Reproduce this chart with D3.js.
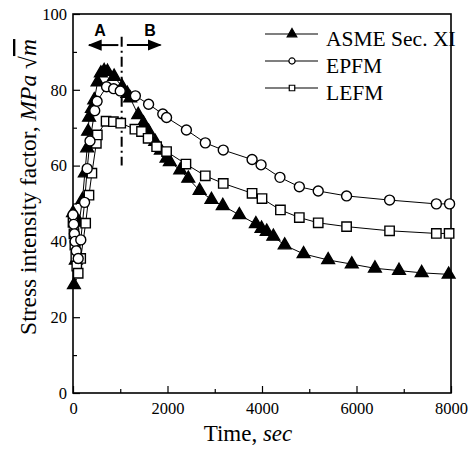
<!DOCTYPE html>
<html><head><meta charset="utf-8">
<script src="https://cdn.jsdelivr.net/npm/d3@7"></script>
<style>body{margin:0;background:#fff}svg{display:block}</style>
</head><body>
<svg id="c" width="474" height="450"></svg>
<script>
const asmeT = [0,20,60,130,200,250,300,320,340,400,450,520,590,660,730,870,1040,1150,1210,1380,1490,1600,1740,1860,1980,2050,2270,2440,2680,2930,3170,3520,3870,3990,4100,4240,4480,4880,5400,5900,6390,6900,7380,7950];
const asmeK = [47.5,28.5,35,45,51,58,64.6,69,72.7,75,77.3,82,84.4,85,84.8,83.5,80.8,79,77.8,73.4,71.2,69,66.3,64,61.9,61,58.8,56.6,53.4,51,49.4,47,44.6,43.4,42.6,41.3,39,36.7,35.1,34,32.9,32.3,31.7,31.3];
const epfmT = [0,15,30,45,70,110,165,245,300,360,460,510,710,860,1000,1320,1600,1900,1980,2400,2800,3180,3790,3980,4380,4790,5190,5790,6700,7690,7970];
const epfmK = [47,44.5,42,40,37.5,35.5,40.4,50.3,59.2,66.5,74.5,77,80.8,80.3,79.7,78.4,76.2,73.6,72.7,69.4,66,64.1,61.6,60.2,56.9,54.4,53.3,52,50.9,49.9,49.9];
const lefmT = [0,20,40,60,80,110,163,268,338,400,494,515,700,855,1010,1310,1450,1590,1770,1980,2390,2800,3180,3790,4000,4390,4790,5190,5790,6700,7690,7960];
const lefmK = [45,42,39,36,33.5,31.6,35.5,44.8,52.2,58,65.9,68.1,71.7,71.6,71.2,69.6,69,67.2,65,63.7,60.4,57.3,55.3,52.7,51.3,48.3,46.3,44.9,43.9,42.8,42.1,42.1];
const xTicks = [0,2000,4000,6000,8000];
const xMinor = [1000,3000,5000,7000];
const yTicks = [0,20,40,60,80,100];
const yMinor = [10,30,50,70,90];
const seriesNames = ["ASME Sec. XI","EPFM","LEFM"];
const phaseLabels = ["A","B"];
const phaseBoundary = 1030;

const W=474,H=450, m={l:73,r:23,t:14,b:57};
const svg=d3.select("#c");
const x=d3.scaleLinear().domain([0,8000]).range([m.l,W-m.r]);
const y=d3.scaleLinear().domain([0,100]).range([H-m.b,m.t]);
const serif="'Liberation Serif','Times New Roman',serif";

// axes
const gx=svg.append("g").attr("transform",`translate(0,${H-m.b})`)
 .call(d3.axisBottom(x).tickValues(xTicks).tickSize(-7).tickPadding(9).tickFormat(d3.format("d")));
const gxm=svg.append("g").attr("transform",`translate(0,${H-m.b})`)
 .call(d3.axisBottom(x).tickValues(xMinor).tickSize(-4).tickFormat(""));
const gy=svg.append("g").attr("transform",`translate(${m.l},0)`)
 .call(d3.axisLeft(y).tickValues(yTicks).tickSize(-7).tickPadding(6).tickFormat(d3.format("d")));
const gym=svg.append("g").attr("transform",`translate(${m.l},0)`)
 .call(d3.axisLeft(y).tickValues(yMinor).tickSize(-4).tickFormat(""));
[gx,gxm,gy,gym].forEach(g=>{g.select(".domain").remove();
 g.selectAll("line").attr("stroke","#000").attr("stroke-width",1.2);
 g.selectAll("text").attr("font-family",serif).attr("font-size",16.5).attr("fill","#000");});
svg.append("rect").attr("x",m.l).attr("y",m.t).attr("width",W-m.l-m.r).attr("height",H-m.t-m.b)
 .attr("fill","none").attr("stroke","#000").attr("stroke-width",1.6);

// axis titles
const xt=svg.append("text").attr("x",248).attr("y",441).attr("text-anchor","middle")
 .attr("font-family",serif).attr("font-size",23);
xt.append("tspan").text("Time, ");
xt.append("tspan").attr("font-style","italic").text("sec");
const yt=svg.append("text").attr("transform",`translate(36,187) rotate(-90)`)
 .attr("text-anchor","middle").attr("font-family",serif).attr("font-size",23.5);
yt.append("tspan").text("Stress intensity factor, ");
yt.append("tspan").attr("font-style","italic").text("MPa");
yt.append("tspan").text(" \u221A");
yt.append("tspan").attr("font-style","italic").attr("text-decoration","overline").text("m");

// phase markers
svg.append("line").attr("x1",x(phaseBoundary)).attr("x2",x(phaseBoundary))
 .attr("y1",y(94)).attr("y2",y(60)).attr("stroke","#000").attr("stroke-width",2)
 .attr("stroke-dasharray","10,4,2,4");
svg.append("defs").append("marker").attr("id","ah").attr("viewBox","0 0 10 10").attr("refX",9).attr("refY",5)
 .attr("markerWidth",7).attr("markerHeight",7).attr("orient","auto-start-reverse")
 .append("path").attr("d","M0,1L10,5L0,9Z").attr("fill","#000");
const ay=y(91.8);
svg.append("line").attr("x1",x(960)).attr("x2",x(340)).attr("y1",ay).attr("y2",ay)
 .attr("stroke","#000").attr("stroke-width",2).attr("marker-end","url(#ah)");
svg.append("line").attr("x1",x(1140)).attr("x2",x(1850)).attr("y1",ay).attr("y2",ay)
 .attr("stroke","#000").attr("stroke-width",2).attr("marker-end","url(#ah)");
svg.selectAll(".pl").data(phaseLabels).enter().append("text")
 .attr("x",(d,i)=>x(i?1630:570)).attr("y",y(92)-8).attr("text-anchor","middle")
 .attr("font-family","'Liberation Sans',Arial,sans-serif").attr("font-weight","bold").attr("font-size",16).text(d=>d);

// series
const series=[
 {name:seriesNames[0],t:asmeT,k:asmeK,sym:d3.symbolTriangle,size:70,fill:"#000"},
 {name:seriesNames[2],t:lefmT,k:lefmK,sym:d3.symbolSquare,size:88,fill:"#fff"},
 {name:seriesNames[1],t:epfmT,k:epfmK,sym:d3.symbolCircle,size:78,fill:"#fff"}];
const line=d3.line().x(d=>x(d[0])).y(d=>y(d[1]));
series.forEach(s=>{
 const pts=s.t.map((t,i)=>[t,s.k[i]]);
 svg.append("path").attr("d",line(pts)).attr("fill","none").attr("stroke","#000").attr("stroke-width",1);
});
series.forEach(s=>{
 const pts=s.t.map((t,i)=>[t,s.k[i]]);
 svg.append("g").selectAll("path").data(pts).enter().append("path")
  .attr("transform",d=>`translate(${x(d[0])},${y(d[1])})`)
  .attr("d",d3.symbol().type(s.sym).size(s.size)).attr("fill",s.fill).attr("stroke","#000").attr("stroke-width",1.4);
});

// legend
const leg=[{n:seriesNames[0],sym:d3.symbolTriangle,fill:"#000",size:40},{n:seriesNames[1],sym:d3.symbolCircle,fill:"#fff",size:30},{n:seriesNames[2],sym:d3.symbolSquare,fill:"#fff",size:30}];
leg.forEach((l,i)=>{
 const yy=34+i*27;
 svg.append("line").attr("x1",265).attr("x2",318).attr("y1",yy).attr("y2",yy).attr("stroke","#000").attr("stroke-width",1.2);
 svg.append("path").attr("transform",`translate(292,${yy})`).attr("d",d3.symbol().type(l.sym).size(l.size))
  .attr("fill",l.fill).attr("stroke","#000").attr("stroke-width",1.2);
 svg.append("text").attr("x",326).attr("y",yy+12).attr("font-family",serif).attr("font-size",21.5).text(l.n);
});
</script>
</body></html>
